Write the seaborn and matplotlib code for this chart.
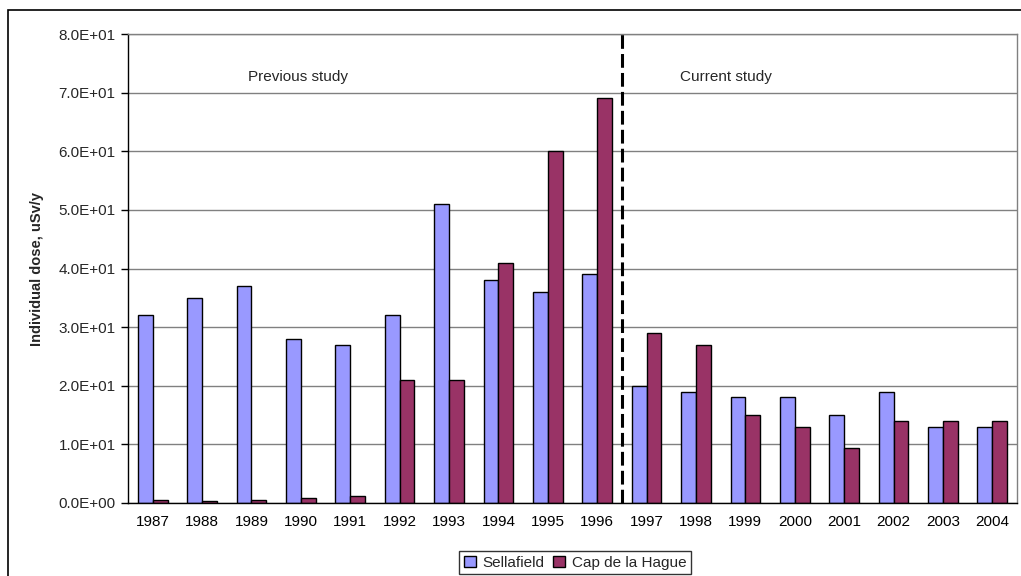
import numpy as np
import pandas as pd
import matplotlib
matplotlib.use("Agg")
import matplotlib.pyplot as plt
from matplotlib.patches import Rectangle
from matplotlib.ticker import FuncFormatter, MultipleLocator
import seaborn as sns

# data
years = ['1987', '1988', '1989', '1990', '1991', '1992', '1993', '1994', '1995',
         '1996', '1997', '1998', '1999', '2000', '2001', '2002', '2003', '2004']
sellafield = [32, 35, 37, 28, 27, 32, 51, 38, 36, 39, 20, 19, 18, 18, 15, 19, 13, 13]
cap_hague = [0.5, 0.3, 0.5, 0.8, 1.2, 21, 21, 41, 60, 69, 29, 27, 15, 13, 9.3, 14, 14, 14]
series_names = ['Sellafield', 'Cap de la Hague']
series_colors = ['#9999FF', '#993366']

df = pd.DataFrame({
    'year': years * 2,
    'dose': sellafield + cap_hague,
    'site': [series_names[0]] * len(years) + [series_names[1]] * len(years),
})

sns.set_theme(style="white")
plt.rcParams['font.family'] = ['Liberation Sans', 'DejaVu Sans']

fig = plt.figure(figsize=(10.21, 5.76), dpi=100)
ax = fig.add_axes([128 / 1021, 73 / 576, 889 / 1021, 469 / 576])

sns.barplot(data=df, x='year', y='dose', hue='site', palette=series_colors,
            width=0.6, edgecolor='black', linewidth=1.0, ax=ax, saturation=1)

handles, labels = ax.get_legend_handles_labels()
ax.get_legend().remove()

ax.set_xlim(-0.5, len(years) - 0.5)
ax.set_ylim(0, 80)
ax.yaxis.set_major_locator(MultipleLocator(10))
ax.yaxis.set_major_formatter(FuncFormatter(lambda v, p: f"{v:.1E}"))
ax.yaxis.grid(True, color='#808080', linewidth=1)
ax.set_axisbelow(True)

# ticks between categories, like Excel
ax.set_xticks(np.arange(-0.5, len(years)), minor=True)
ax.tick_params(axis='x', which='major', length=0, labelsize=11, pad=9, colors='black')
ax.tick_params(axis='x', which='minor', length=5, width=1, color='black', direction='out')
ax.tick_params(axis='y', which='major', length=5, width=1, color='black', direction='out',
               labelsize=11, pad=4, left=True)

for s in ['left', 'bottom']:
    ax.spines[s].set_color('black')
    ax.spines[s].set_linewidth(1)
for s in ['top', 'right']:
    ax.spines[s].set_color('#808080')
    ax.spines[s].set_linewidth(1)

ax.set_xlabel('')
ax.set_ylabel('Individual dose, uSv/y', fontsize=10.5, fontweight='bold', labelpad=10)

# split between the two studies
ax.axvline(9.5, color='black', linewidth=2.2, linestyle=(0, (4.5, 1.7)))
ax.text(2.94, 72.7, 'Previous study', ha='center', va='center', fontsize=11)
ax.text(11.6, 72.7, 'Current study', ha='center', va='center', fontsize=11)

leg = fig.legend(handles, labels, loc='upper center', bbox_to_anchor=(575 / 1021, 1 - 551 / 576),
                 ncol=2, frameon=True, fancybox=False, fontsize=11, handlelength=0.8,
                 handleheight=0.8, handletextpad=0.4, columnspacing=0.6, borderpad=0.3,
                 edgecolor='black', borderaxespad=0)
leg.get_frame().set_linewidth(1)
for h in leg.legend_handles:
    h.set_edgecolor('black')

# outer chart border
fig.patches.append(Rectangle((8 / 1021, -0.1), 1.2, 1.1 - 10 / 576, transform=fig.transFigure,
                             fill=False, edgecolor='black', linewidth=1.2, clip_on=False))

fig.savefig('out.png', dpi=100)
